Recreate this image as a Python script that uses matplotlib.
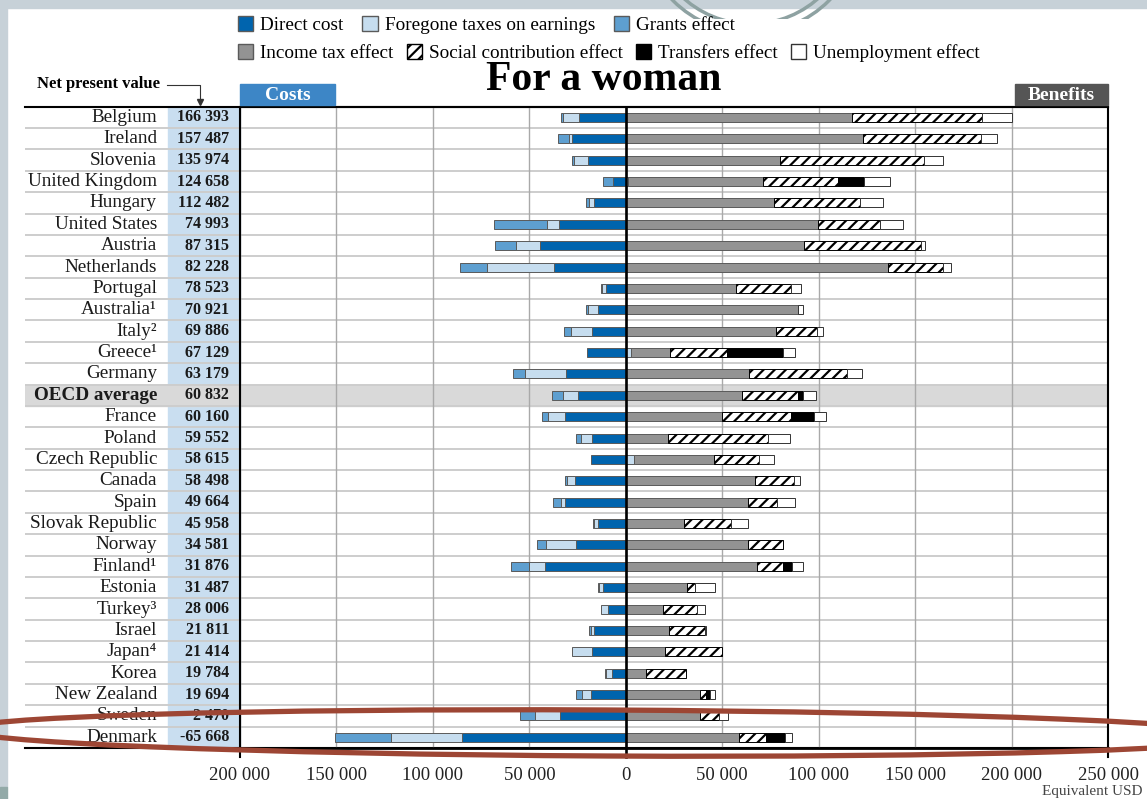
import numpy as np
import matplotlib
matplotlib.use("Agg")
import matplotlib.pyplot as plt
from matplotlib.patches import Rectangle, Ellipse, Circle, Patch
from matplotlib.lines import Line2D
from matplotlib.transforms import IdentityTransform, Bbox

# --- data (USD) ---
countries = ["Belgium", "Ireland", "Slovenia", "United Kingdom", "Hungary",
             "United States", "Austria", "Netherlands", "Portugal", "Australia\u00b9",
             "Italy\u00b2", "Greece\u00b9", "Germany", "OECD average", "France",
             "Poland", "Czech Republic", "Canada", "Spain", "Slovak Republic",
             "Norway", "Finland\u00b9", "Estonia", "Turkey\u00b3", "Israel",
             "Japan\u2074", "Korea", "New Zealand", "Sweden", "Denmark"]
npv_labels = ["166 393", "157 487", "135 974", "124 658", "112 482",
              "74 993", "87 315", "82 228", "78 523", "70 921",
              "69 886", "67 129", "63 179", "60 832", "60 160",
              "59 552", "58 615", "58 498", "49 664", "45 958",
              "34 581", "31 876", "31 487", "28 006", "21 811",
              "21 414", "19 784", "19 694", "2 470", "-65 668"]

# costs (drawn to the left)
direct_cost = np.array([24500, 28100, 19800, 6700, 16600, 34600, 44700, 37100, 10500, 14600,
                        17600, 20200, 31000, 24700, 31400, 17600, 18000, 26500, 31600, 14600,
                        25600, 42100, 11800, 9100, 16500, 17500, 6900, 18100, 34300, 85100])
foregone_taxes = np.array([8100, 1400, 7300, 0, 2400, 6300, 12100, 35000, 1800, 5100,
                           10900, 0, 21300, 7700, 8700, 5500, 0, 3800, 2200, 1800,
                           15800, 8100, 2200, 3500, 1600, 10600, 3300, 4500, 12800, 36400])
grants_effect = np.array([1000, 5500, 800, 5100, 1400, 27300, 10900, 14000, 400, 800,
                          3400, 0, 6300, 6100, 3400, 2600, 0, 1200, 4000, 800,
                          4700, 9300, 600, 0, 1200, 0, 800, 3300, 7900, 29500])
# small positive foregone-tax pieces on the benefit side
foregone_pos = np.array([0, 0, 0, 1400, 0, 0, 0, 0, 0, 0,
                         0, 2600, 0, 0, 0, 0, 4100, 0, 0, 0,
                         0, 0, 0, 0, 0, 0, 0, 0, 0, 0])
# benefits (drawn to the right)
income_tax = np.array([117200, 123100, 80200, 69900, 76900, 99800, 92500, 135700, 57100, 89100,
                       78100, 20400, 63800, 60300, 49800, 21700, 41500, 67200, 63200, 30200,
                       63200, 68100, 31500, 19300, 22200, 20300, 10400, 38400, 38400, 58700])
social_contrib = np.array([67600, 60900, 74500, 38900, 44300, 32200, 60300, 28500, 28500, 0,
                           20900, 29400, 50800, 29200, 35800, 52000, 23700, 20000, 15200, 24100,
                           18500, 13200, 4500, 17700, 18700, 29500, 20700, 3100, 10000, 13800])
transfers = np.array([0, 0, 0, 13200, 0, 0, 0, 0, 0, 0,
                      0, 29200, 0, 2600, 11900, 0, 0, 0, 0, 0,
                      0, 4900, 0, 0, 0, 0, 0, 2400, 0, 9800])
unemployment = np.array([15400, 8700, 9500, 13400, 11900, 11500, 2400, 4300, 5500, 2800,
                         3000, 5900, 7900, 6300, 6300, 11300, 7300, 3000, 9300, 8900,
                         0, 5500, 10400, 3900, 600, 0, 0, 2600, 4700, 3900])

x_ticks = [-200000, -150000, -100000, -50000, 0, 50000, 100000, 150000, 200000, 250000]
x_tick_labels = ["200 000", "150 000", "100 000", "50 000", "0",
                 "50 000", "100 000", "150 000", "200 000", "250 000"]

W, H = 1147, 799
n = len(countries)
rows = np.arange(n)
oecd_row = countries.index("OECD average")

c_direct = "#0064ae"
c_foregone = "#c6ddef"
c_grants = "#5e9fd0"
c_income = "#939393"
edge = "#5a5a5a"

plt.rcParams["font.family"] = ["Liberation Serif", "DejaVu Serif"]
plt.rcParams["hatch.linewidth"] = 1.6

fig = plt.figure(figsize=(W / 100, H / 100), dpi=100)
fig.patch.set_facecolor("white")

# slide background bits
fig.add_artist(Rectangle((0, H - 8), W, 8, color="#c7d1d8", transform=IdentityTransform(), zorder=0))
fig.add_artist(Rectangle((0, H - 787), 7, 787, color="#c7d1d8", transform=IdentityTransform(), zorder=0))
fig.add_artist(Rectangle((0, 0), 7, H - 787, color="#93aaa8", transform=IdentityTransform(), zorder=0))
clip = Bbox.from_extents(0, H - 19, W, H)
for r in (110, 101):
    ring = Circle((751, H + 77), r, fill=False, ec="#8ea2a2", lw=2.5,
                  transform=IdentityTransform(), zorder=1)
    ring.set_clip_box(clip)
    fig.add_artist(ring)

# label/grid axes underneath (x in pixels)
top_px, bot_px = 106.7, 748
bg = fig.add_axes([25 / W, 1 - bot_px / H, (1108 - 25) / W, (bot_px - top_px) / H])
bg.set_xlim(25, 1108)
bg.set_ylim(n - 0.5, -0.5)
bg.axvspan(168, 240, color="#c9def0", zorder=0)
bg.axhspan(oecd_row - 0.5, oecd_row + 0.5, color="#d9d9d9", zorder=1)
for i in range(n - 1):
    bg.axhline(i + 0.5, color="#cdcdcd", lw=1.4, zorder=2)
bg.set_xticks([])
bg.set_yticks([])
for s in ("left", "right"):
    bg.spines[s].set_visible(False)
bg.spines["top"].set_linewidth(1.5)
bg.spines["bottom"].set_linewidth(1.5)
for i, (name, val) in enumerate(zip(countries, npv_labels)):
    w = "bold" if i == oecd_row else "normal"
    bg.text(157, i, name, ha="right", va="center", fontsize=13.8, weight=w, color="#1a1a1a")
    bg.text(229, i, val, ha="right", va="center", fontsize=11.5, weight="bold", color="#1a1a1a")

# bar axes
ax = fig.add_axes([240 / W, 1 - bot_px / H, (1108 - 240) / W, (bot_px - top_px) / H])
ax.patch.set_alpha(0)
ax.set_xlim(-200000, 250000)
ax.set_ylim(n - 0.5, -0.5)
ax.set_xticks(x_ticks)
ax.set_xticklabels(x_tick_labels, fontsize=13.5, color="#222")
ax.tick_params(axis="x", length=0, pad=14)
ax.set_yticks([])
ax.grid(axis="x", color="#a9a9a9", lw=1)
ax.set_axisbelow(True)
for s in ax.spines.values():
    s.set_linewidth(1.5)
    s.set_color("black")
ax.spines["bottom"].set_linewidth(2)

bh = 0.42


def seg(vals, left, **kw):
    m = vals > 0
    ax.barh(rows[m], vals[m], left=left[m], height=bh, linewidth=0.7, zorder=3, **kw)


# costs
seg(direct_cost, -direct_cost, color=c_direct, edgecolor=edge)
seg(foregone_taxes, -(direct_cost + foregone_taxes), color=c_foregone, edgecolor=edge)
seg(grants_effect, -(direct_cost + foregone_taxes + grants_effect), color=c_grants, edgecolor=edge)
# benefits
base = np.zeros(n)
seg(foregone_pos, base, color=c_foregone, edgecolor=edge)
base = base + foregone_pos
seg(income_tax, base, color=c_income, edgecolor=edge)
base = base + income_tax
seg(social_contrib, base, facecolor="white", edgecolor="black", hatch="///")
base = base + social_contrib
seg(transfers, base, color="black", edgecolor="black")
base = base + transfers
seg(unemployment, base, facecolor="white", edgecolor="#333")

ax.axvline(0, color="black", lw=1.9, zorder=5)
for xv in (-200000, 0, 250000):
    ax.plot([xv, xv], [n - 0.5, n - 0.1], color="black", lw=1.9 if xv == 0 else 1.5,
            clip_on=False, zorder=5)

# legend
h1 = [Patch(facecolor=c_direct, edgecolor=edge), Patch(facecolor=c_foregone, edgecolor=edge),
      Patch(facecolor=c_grants, edgecolor=edge)]
l1 = ["Direct cost", "Foregone taxes on earnings", "Grants effect"]
h2 = [Patch(facecolor=c_income, edgecolor=edge), Patch(facecolor="white", edgecolor="black", hatch="///"),
      Patch(facecolor="black", edgecolor="black"), Patch(facecolor="white", edgecolor="#333")]
l2 = ["Income tax effect", "Social contribution effect", "Transfers effect", "Unemployment effect"]
kw = dict(frameon=False, handlelength=0.8, handleheight=0.8, handletextpad=0.35,
          fontsize=13.8, loc="center left", borderaxespad=0, borderpad=0)
fig.legend(h1, l1, ncol=3, columnspacing=1.0, bbox_to_anchor=(238 / W, 1 - 25 / H), **kw)
fig.legend(h2, l2, ncol=4, columnspacing=0.7, bbox_to_anchor=(238 / W, 1 - 53 / H), **kw)

# title and header boxes
fig.text(604 / W, 1 - 80 / H, "For a woman", ha="center", va="center", fontsize=30, weight="bold")
fig.add_artist(Rectangle((240, H - 105), 95, 21, color="#3d86c6", transform=IdentityTransform(), zorder=3))
fig.text(287.5 / W, 1 - 95 / H, "Costs", ha="center", va="center", fontsize=14, color="white", weight="bold")
fig.add_artist(Rectangle((1015, H - 105), 93, 21, color="#555555", transform=IdentityTransform(), zorder=3))
fig.text(1061.5 / W, 1 - 95 / H, "Benefits", ha="center", va="center", fontsize=14, color="white", weight="bold")

fig.text(37 / W, 1 - 84 / H, "Net present value", ha="left", va="center", fontsize=12, weight="bold")
fig.add_artist(Line2D([167 / W, 200 / W, 200 / W], [1 - 85 / H, 1 - 85 / H, 1 - 102 / H],
                      color="#333", lw=0.8, transform=fig.transFigure))
fig.add_artist(Line2D([200 / W], [1 - 102 / H], marker="v", ms=4, color="#333", transform=fig.transFigure))

fig.text(1143 / W, 1 - 791 / H, "Equivalent USD", ha="right", va="center", fontsize=11, color="#444")

# red highlight ellipse around the last two rows
fig.add_artist(Ellipse((607, H - 733), 1286, 46, angle=-0.3, fill=False, ec="#9d4634", lw=3.8,
                       transform=IdentityTransform(), zorder=10))

fig.savefig("out.png", dpi=100)
